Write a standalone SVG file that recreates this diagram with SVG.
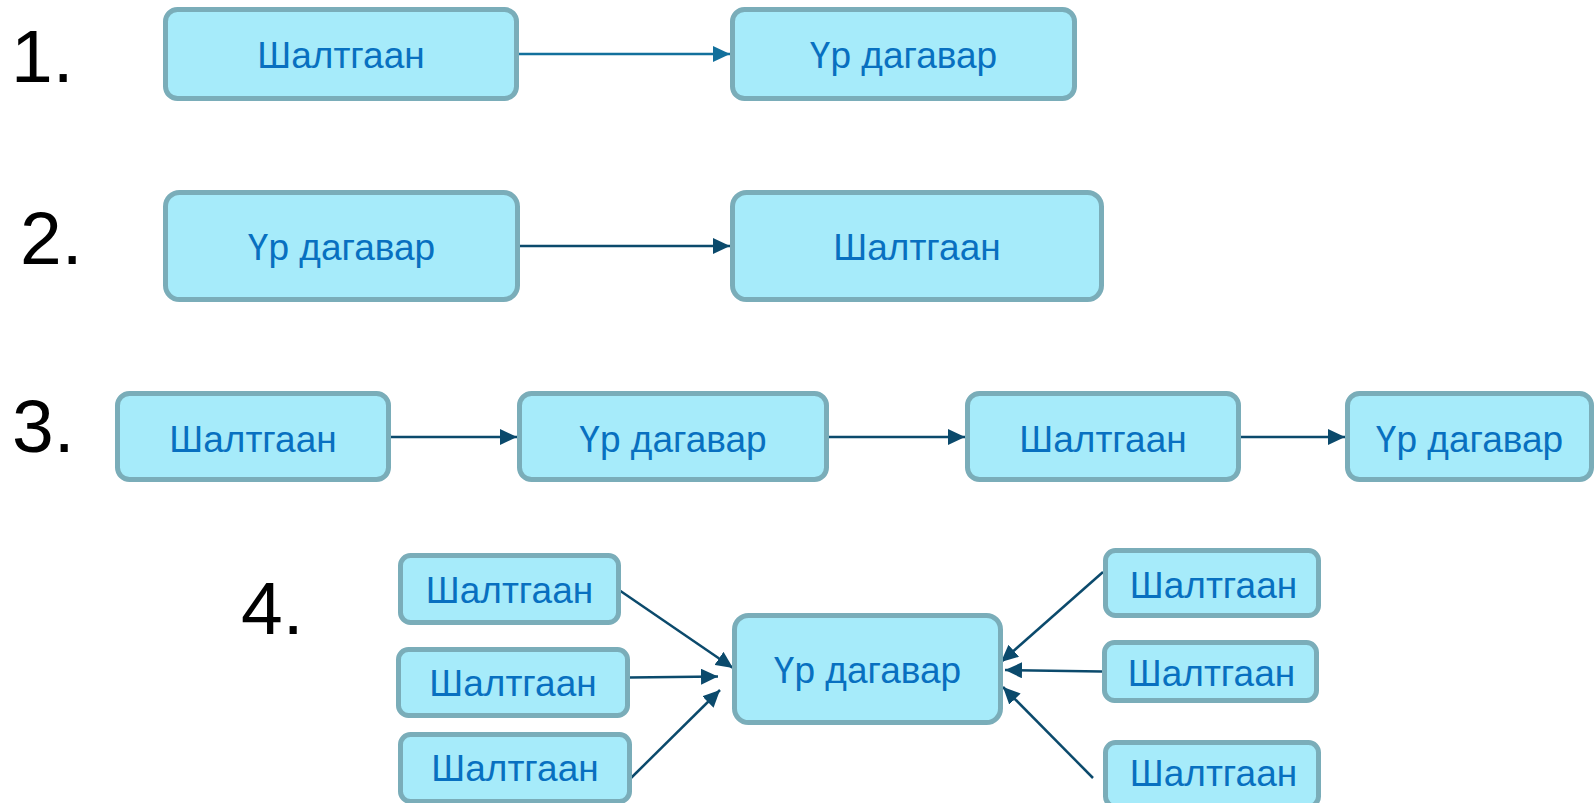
<svg xmlns="http://www.w3.org/2000/svg" width="1595" height="803" viewBox="0 0 1595 803">
  <style>
    .box { fill: #a6ebfa; stroke: #7aadb9; stroke-width: 5; }
    .lbl { font-family: "Liberation Sans", Arial, sans-serif; font-size: 37px; fill: #0870c0; text-anchor: middle; }
    .num { font-family: "Liberation Sans", Arial, sans-serif; font-size: 75px; fill: #000000; }
    .edge { stroke: #0b4a6c; stroke-width: 2.5; fill: none; marker-end: url(#head); }
    .edge1 { stroke: #12709c; stroke-width: 2.5; fill: none; marker-end: url(#head1); }
  </style>
  <defs>
    <marker id="head" markerUnits="userSpaceOnUse" markerWidth="17" markerHeight="16" refX="17" refY="8" orient="auto">
      <path d="M0,0 L17,8 L0,16 Z" fill="#0b4a6c"/>
    </marker>
    <marker id="head1" markerUnits="userSpaceOnUse" markerWidth="17" markerHeight="16" refX="17" refY="8" orient="auto">
      <path d="M0,0 L17,8 L0,16 Z" fill="#12709c"/>
    </marker>
  </defs>

  <rect width="1595" height="803" fill="#ffffff"/>

  <!-- row numbers -->
  <text class="num" x="11" y="82">1.</text>
  <text class="num" x="20" y="264">2.</text>
  <text class="num" x="12" y="452">3.</text>
  <text class="num" x="241" y="634">4.</text>

  <!-- connectors -->
  <g id="connectors">
    <line class="edge1" x1="519" y1="54" x2="730" y2="54"/>
    <line class="edge" x1="520" y1="246" x2="730" y2="246"/>
    <line class="edge" x1="391" y1="437" x2="517" y2="437"/>
    <line class="edge" x1="829" y1="437" x2="965" y2="437"/>
    <line class="edge" x1="1241" y1="437" x2="1345" y2="437"/>
    <line class="edge" x1="619" y1="590" x2="733" y2="668"/>
    <line class="edge" x1="629" y1="677.5" x2="718" y2="676.5"/>
    <line class="edge" x1="631" y1="778" x2="720" y2="690"/>
    <line class="edge" x1="1103" y1="572" x2="1001" y2="662"/>
    <line class="edge" x1="1102" y1="671.5" x2="1005" y2="670"/>
    <line class="edge" x1="1093" y1="778" x2="1003" y2="687"/>
  </g>

  <!-- row 1 -->
  <g id="r1-cause">
    <rect class="box" x="165.5" y="9.5" width="351" height="89" rx="12"/>
    <text class="lbl" x="341" y="68">Шалтгаан</text>
  </g>
  <g id="r1-effect">
    <rect class="box" x="732.5" y="9.5" width="342" height="89" rx="12"/>
    <text class="lbl" x="903.5" y="68">Үр дагавар</text>
  </g>

  <!-- row 2 -->
  <g id="r2-effect">
    <rect class="box" x="165.5" y="192.5" width="352" height="107" rx="14"/>
    <text class="lbl" x="341.5" y="260">Үр дагавар</text>
  </g>
  <g id="r2-cause">
    <rect class="box" x="732.5" y="192.5" width="369" height="107" rx="14"/>
    <text class="lbl" x="917" y="260">Шалтгаан</text>
  </g>

  <!-- row 3 -->
  <g id="r3-cause-1">
    <rect class="box" x="117.5" y="393.5" width="271" height="86" rx="12"/>
    <text class="lbl" x="253" y="451.5">Шалтгаан</text>
  </g>
  <g id="r3-effect-1">
    <rect class="box" x="519.5" y="393.5" width="307" height="86" rx="12"/>
    <text class="lbl" x="673" y="451.5">Үр дагавар</text>
  </g>
  <g id="r3-cause-2">
    <rect class="box" x="967.5" y="393.5" width="271" height="86" rx="12"/>
    <text class="lbl" x="1103" y="451.5">Шалтгаан</text>
  </g>
  <g id="r3-effect-2">
    <rect class="box" x="1347.5" y="393.5" width="244" height="86" rx="12"/>
    <text class="lbl" x="1469.5" y="451.5">Үр дагавар</text>
  </g>

  <!-- row 4 -->
  <g id="r4-effect">
    <rect class="box" x="734.5" y="615.5" width="266" height="107" rx="14"/>
    <text class="lbl" x="867.5" y="683">Үр дагавар</text>
  </g>
  <g id="r4-cause-l1">
    <rect class="box" x="400.5" y="555.5" width="218" height="67" rx="10"/>
    <text class="lbl" x="509.5" y="602.5">Шалтгаан</text>
  </g>
  <g id="r4-cause-l2">
    <rect class="box" x="398.5" y="649.5" width="229" height="66" rx="10"/>
    <text class="lbl" x="513" y="695.5">Шалтгаан</text>
  </g>
  <g id="r4-cause-l3">
    <rect class="box" x="400.5" y="734.5" width="229" height="67" rx="10"/>
    <text class="lbl" x="515" y="781">Шалтгаан</text>
  </g>
  <g id="r4-cause-r1">
    <rect class="box" x="1105.5" y="550.5" width="213" height="65" rx="10"/>
    <text class="lbl" x="1213.5" y="598">Шалтгаан</text>
  </g>
  <g id="r4-cause-r2">
    <rect class="box" x="1104.5" y="642.5" width="212" height="58" rx="10"/>
    <text class="lbl" x="1211.5" y="686">Шалтгаан</text>
  </g>
  <g id="r4-cause-r3">
    <rect class="box" x="1105.5" y="742.5" width="213" height="64" rx="10"/>
    <text class="lbl" x="1213.5" y="786">Шалтгаан</text>
  </g>
</svg>
